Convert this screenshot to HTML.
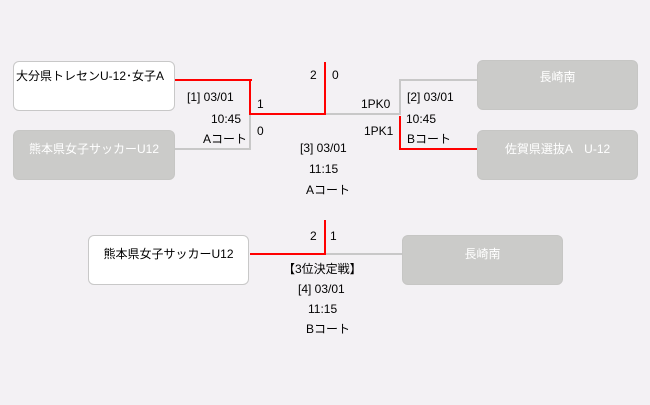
<!DOCTYPE html>
<html><head><meta charset="utf-8"><style>
body{margin:0;width:650px;height:405px;background:#f3f1f4;position:relative;overflow:hidden;font-family:"Liberation Sans","Noto Sans CJK JP",sans-serif;font-size:12px;color:#000}
.b{position:absolute;width:158px;height:48px;border:1px solid #c8c8c8;border-radius:6px;box-sizing:border-box;text-align:center;padding-top:5px}
.w{background:#fff}
.g{background:#cbcbc9;color:#fff;border-color:#c6c6c4}
.l{position:absolute}
.r{background:#f00}
.y{background:#c8c8c8}
.t{position:absolute;white-space:nowrap;line-height:14px}
</style></head><body>
<div class="b w" style="left:13px;top:61px;width:162px;height:50px;padding-top:5px;text-align:left;padding-left:2px">大分県トレセンU-12･女子A</div>
<div class="b g" style="left:13px;top:130px;width:162px;height:50px;padding-top:9px">熊本県女子サッカーU12</div>
<div class="b g" style="left:477px;top:60px;width:161px;height:50px;padding-top:7px">長崎南</div>
<div class="b g" style="left:477px;top:130px;width:161px;height:50px;padding-top:9px">佐賀県選抜A　U-12</div>
<div class="b w" style="left:88px;top:235px;width:161px;height:50px;padding-top:9px">熊本県女子サッカーU12</div>
<div class="b g" style="left:402px;top:235px;width:161px;height:50px;padding-top:9px">長崎南</div>

<div class="l r" style="left:175px;top:79px;width:77px;height:2px"></div>
<div class="l r" style="left:249px;top:79px;width:2px;height:36px"></div>
<div class="l r" style="left:249px;top:113px;width:77px;height:2px"></div>
<div class="l r" style="left:324px;top:62px;width:2px;height:53px"></div>
<div class="l y" style="left:175px;top:148px;width:76px;height:2px"></div>
<div class="l y" style="left:249px;top:115px;width:2px;height:35px"></div>
<div class="l y" style="left:326px;top:113px;width:75px;height:2px"></div>
<div class="l y" style="left:399px;top:79px;width:2px;height:36px"></div>
<div class="l y" style="left:399px;top:79px;width:78px;height:2px"></div>
<div class="l r" style="left:399px;top:116px;width:2px;height:34px"></div>
<div class="l r" style="left:399px;top:148px;width:78px;height:2px"></div>

<div class="l r" style="left:250px;top:253px;width:76px;height:2px"></div>
<div class="l r" style="left:324px;top:220px;width:2px;height:35px"></div>
<div class="l y" style="left:326px;top:253px;width:76px;height:2px"></div>

<div class="t" style="left:187px;top:90px">[1] 03/01</div>
<div class="t" style="left:211px;top:112px">10:45</div>
<div class="t" style="left:203px;top:132px">Aコート</div>
<div class="t" style="left:257px;top:97px">1</div>
<div class="t" style="left:257px;top:124px">0</div>
<div class="t" style="left:310px;top:68px">2</div>
<div class="t" style="left:332px;top:68px">0</div>
<div class="t" style="left:361px;top:97px">1PK0</div>
<div class="t" style="left:364px;top:124px">1PK1</div>
<div class="t" style="left:407px;top:90px">[2] 03/01</div>
<div class="t" style="left:406px;top:112px">10:45</div>
<div class="t" style="left:407px;top:132px">Bコート</div>
<div class="t" style="left:300px;top:141px">[3] 03/01</div>
<div class="t" style="left:309px;top:162px">11:15</div>
<div class="t" style="left:306px;top:183px">Aコート</div>

<div class="t" style="left:310px;top:229px">2</div>
<div class="t" style="left:330px;top:229px">1</div>
<div class="t" style="left:283px;top:262px">【3位決定戦】</div>
<div class="t" style="left:298px;top:282px">[4] 03/01</div>
<div class="t" style="left:308px;top:302px">11:15</div>
<div class="t" style="left:306px;top:322px">Bコート</div>
</body></html>
